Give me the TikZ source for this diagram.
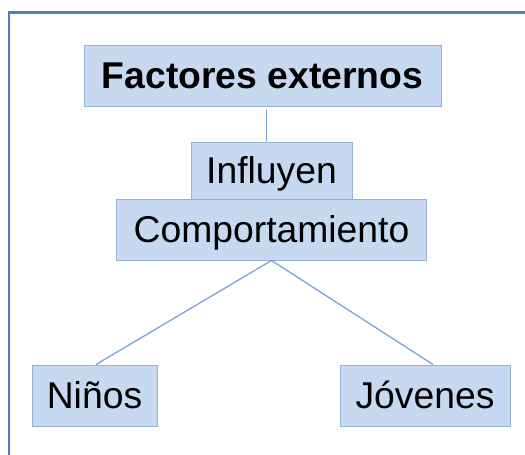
\documentclass[tikz,border=0pt]{standalone}
\usepackage{fontspec}
\setmainfont{Liberation Sans}
\usetikzlibrary{calc}
\definecolor{boxfill}{HTML}{C6D9F1}
\definecolor{boxline}{HTML}{95B3D7}
\definecolor{conline}{HTML}{7FA3D6}
\definecolor{frameline}{HTML}{4F81BD}
\tikzset{
  box/.style={draw=boxline, line width=1pt, fill=boxfill, rectangle, inner sep=0pt,
    font=\fontsize{37.3}{44}\selectfont, text height=26.7pt, text depth=0pt, align=center},
  conn/.style={draw=conline, line width=1.3pt},
  frame/.style={draw=frameline, line width=2.2pt}
}
\begin{document}
\begin{tikzpicture}[x=1pt,y=-1pt]
\useasboundingbox (0,0) rectangle (525,455);
\draw[frame] (9,455) -- (9,12.5) -- (525,12.5);
\node[box, minimum width=357pt, minimum height=61pt, font=\fontsize{37.3}{44}\selectfont\bfseries] (fe) at (262.5,75.5) {Factores externos};
\node[box, minimum width=161pt, minimum height=57pt] (inf) at (271.5,170.5) {Influyen};
\node[box, minimum width=310pt, minimum height=61pt] (comp) at (271.5,229.5) {Comportamiento};
\node[box, minimum width=125pt, minimum height=61pt] (nin) at (94.5,395.5) {Niños};
\node[box, minimum width=170pt, minimum height=61pt] (jov) at (425,395.5) {Jóvenes};
\draw[conn] ([xshift=4.2pt,yshift=-3pt]fe.south) -- ([xshift=-4.8pt]inf.north);
\draw[conn] (comp.south) -- ([xshift=1.5pt]nin.north);
\draw[conn] (comp.south) -- ([xshift=8pt]jov.north);
\end{tikzpicture}
\end{document}
